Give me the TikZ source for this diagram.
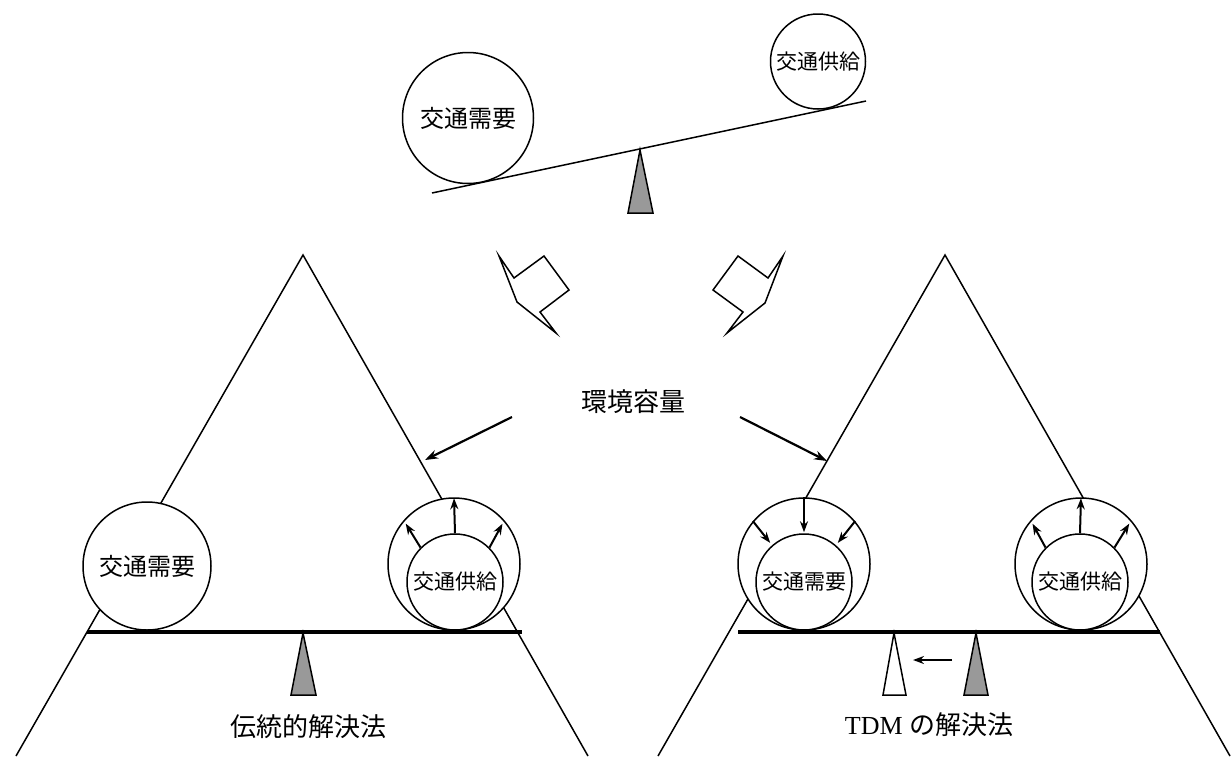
\documentclass[tikz,border=0pt]{standalone}
\usepackage{fontspec}
\setmainfont{Liberation Serif}
\newfontfamily\jp{Noto Sans CJK JP}
\usetikzlibrary{arrows.meta}
\begin{document}
\begin{tikzpicture}[x=1pt,y=-1pt,
  ln/.style={line width=1.5pt},
  ball/.style={circle, draw, line width=1.5pt, fill=white, inner sep=0pt, font=\jp\fontsize{21}{21}\selectfont},
  bigball/.style={ball, font=\jp\fontsize{24}{24}\selectfont},
  beam/.style={line width=3.5pt},
  fulc/.style={line width=1.5pt, fill=gray!80, line join=miter},
  wfulc/.style={line width=1.5pt, fill=white, line join=miter},
  arr/.style={line width=2.2pt, -{Stealth[length=13pt,width=9pt]}},
  sarr/.style={line width=2pt, -{Stealth[length=11pt,width=8pt]}},
  lbl/.style={font=\fontsize{26}{26}\selectfont, inner sep=0pt},
  notch/.style={line width=1.5pt, line join=miter}
]
\useasboundingbox (0,0) rectangle (1232,756);
% big triangles
\draw[ln, line join=miter] (16,756) -- (303,255) -- (588,756);
\draw[ln, line join=miter] (658,756) -- (945,255) -- (1230,756);
% top seesaw
\draw[fulc] (640,150) -- (653,213) -- (628,213) -- cycle;
\draw[ln] (432,193) -- (866,101);
\node[bigball, minimum size=131pt] (topD) at (468,118) {交通需要};
\node[ball, minimum size=95pt] (topS) at (818,61.5) {交通供給};
% notched arrows
\draw[notch] (499,256) -- (514,278) -- (544,256) -- (569,290) -- (540,312) -- (556,333) -- (517,302) -- cycle;
\draw[notch] (783,256) -- (768,278) -- (738,256) -- (713,290) -- (743,312) -- (727,333) -- (765,303) -- cycle;
% environment capacity
\node[lbl] (env) at (633,402) {\jp 環境容量};
\coordinate (envL) at (512,417);
\coordinate (envR) at (740,417);
\coordinate (sideL) at (425,460);
\coordinate (sideR) at (827,461);
\draw[arr] (envL) -- (sideL);
\draw[arr] (envR) -- (sideR);
% left balance
\draw[fulc] (303,633) -- (316,695) -- (291,695) -- cycle;
\draw[beam] (87,632) -- (522,632);
\node[bigball, minimum size=128pt] (bD) at (147,566) {交通需要};
\node[ball, minimum size=132pt] (o1) at (454,564) {};
\node[ball, minimum size=96pt] (i1) at (455,582) {交通供給};
\draw[sarr, shorten >=1pt] (i1.90) -- (o1.90);
\draw[sarr, shorten >=4pt] (i1.135) -- (o1.139);
\draw[sarr, shorten >=4pt] (i1.45) -- (o1.41);
\node[lbl] (m1) at (308,727) {\jp 伝統的解決法};
% right balance
\draw[wfulc] (894,633) -- (906,695) -- (883,695) -- cycle;
\draw[fulc] (976,633) -- (988,695) -- (964,695) -- cycle;
\draw[beam] (738,632) -- (1160,632);
\node[ball, minimum size=132pt] (o2) at (804,564) {};
\node[ball, minimum size=96pt] (i2) at (804,582) {交通需要};
\draw[sarr, shorten >=1pt] (o2.90) -- (i2.90);
\draw[sarr, shorten >=3pt] (o2.140) -- (i2.131);
\draw[sarr, shorten >=3pt] (o2.40) -- (i2.49);
\node[ball, minimum size=132pt] (o3) at (1081,564) {};
\node[ball, minimum size=96pt] (i3) at (1080,582) {交通供給};
\draw[sarr, shorten >=1pt] (i3.90) -- (o3.90);
\draw[sarr, shorten >=4pt] (i3.135) -- (o3.139);
\draw[sarr, shorten >=4pt] (i3.45) -- (o3.41);
\coordinate (shiftFrom) at (952,660);
\coordinate (shiftTo) at (913,660);
\draw[sarr] (shiftFrom) -- (shiftTo);
\node[lbl] (m2) at (929,725) {TDM\ {\jp の解決法}};
\end{tikzpicture}
\end{document}
